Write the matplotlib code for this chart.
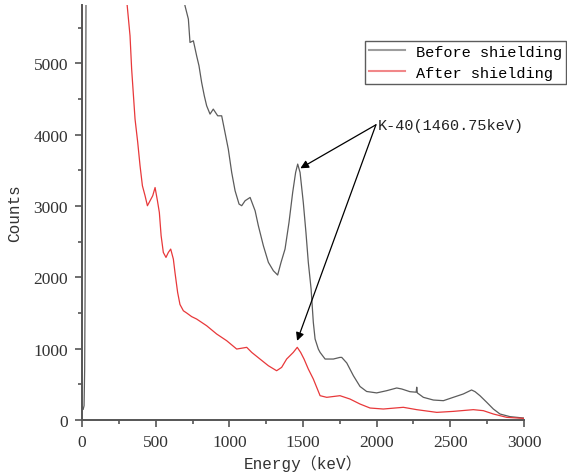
import numpy as np
import matplotlib.pyplot as plt
from matplotlib.ticker import MultipleLocator

# spectrum before shielding (energy keV, counts)
before_e = [8, 14, 18, 21, 24, 28, 32, 690,
            699, 722, 733, 756, 778, 794, 812, 830, 846, 869, 891, 921, 948, 966,
            993, 1016, 1039, 1066, 1084, 1107, 1141, 1175, 1197, 1231, 1265, 1299,
            1328, 1351, 1378, 1405, 1430, 1450, 1464, 1480, 1502, 1520, 1536, 1555,
            1570, 1582, 1604, 1616, 1650, 1706, 1751, 1763, 1797, 1842, 1887, 1932,
            2000, 2068, 2136, 2170, 2226, 2268, 2272, 2276, 2317, 2385, 2453, 2520,
            2588, 2644, 2668, 2701, 2747, 2792, 2837, 2905, 2996]
before_c = [150, 200, 700, 1800, 3500, 6500, 9000, 5950,
            5810, 5622, 5295, 5318, 5108, 4968, 4734, 4547, 4407, 4290, 4360, 4266, 4266, 4080,
            3799, 3472, 3215, 3028, 3005, 3075, 3121, 2934, 2724, 2444, 2211, 2093,
            2033, 2211, 2397, 2771, 3192, 3472, 3589, 3472, 3051, 2630, 2211, 1837,
            1370, 1136, 995, 948, 855, 855, 878, 878, 800, 621, 470, 400,
            380, 411, 449, 435, 397, 390, 460, 380, 318, 280, 271, 318,
            365, 421, 397, 341, 248, 154, 84, 47, 28]

# spectrum after shielding
after_e = [0, 4, 300, 305, 326, 337, 360, 378, 394, 410, 428, 444, 462, 480, 496,
           512, 525, 537, 552, 570, 586, 602, 620, 631, 649, 665, 688, 711, 744,
           778, 846, 914, 982, 1050, 1118, 1152, 1208, 1265, 1321, 1355, 1389,
           1434, 1461, 1484, 1507, 1536, 1570, 1593, 1616, 1661, 1751, 1819, 1887,
           1955, 2045, 2181, 2272, 2408, 2520, 2656, 2724, 2792, 2883, 2996]
after_c = [4200, 8000, 5950, 5850, 5388, 4921, 4220, 3897, 3565, 3285, 3145, 3005, 3075, 3145, 3260,
           3075, 2910, 2585, 2350, 2280, 2350, 2397, 2257, 2070, 1790, 1620, 1532, 1500, 1450,
           1416, 1322, 1206, 1112, 995, 1019, 948, 855, 761, 691, 738, 855,
           948, 1019, 948, 855, 715, 575, 458, 341, 318, 341, 294, 224,
           168, 154, 178, 145, 107, 121, 145, 131, 84, 37, 23]

plt.rcParams['font.family'] = ['Liberation Serif', 'DejaVu Serif']
mono = ['Liberation Mono', 'Noto Sans CJK SC']

fig = plt.figure(figsize=(5.67, 4.77), dpi=100)
ax = fig.add_axes([82/567, 56/477, 442/567, 415/477])

ax.plot(before_e, before_c, color='#5c5c5c', lw=0.9, label='Before shielding')
ax.plot(after_e, after_c, color='#e8383a', lw=0.9, label='After shielding')

ax.set_xlim(0, 3000)
ax.set_ylim(0, 5820)
ax.xaxis.set_major_locator(MultipleLocator(500))
ax.xaxis.set_minor_locator(MultipleLocator(250))
ax.yaxis.set_major_locator(MultipleLocator(1000))
ax.yaxis.set_minor_locator(MultipleLocator(500))

for s in ['top', 'right']:
    ax.spines[s].set_visible(False)
for s in ['left', 'bottom']:
    ax.spines[s].set_color('#555555')
    ax.spines[s].set_linewidth(1.4)
ax.tick_params(which='major', length=5, width=1.2, color='#555555',
               labelcolor='#333333', labelsize=12.5, pad=5)
ax.tick_params(which='minor', length=3, width=1.2, color='#555555')

ax.set_xlabel('Energy（keV）', family=mono, fontsize=11.5, color='#333333', labelpad=3)
ax.set_ylabel('Counts', family=mono, fontsize=11.5, color='#333333', labelpad=8)

leg = ax.legend(loc='upper right', bbox_to_anchor=(566/567, 435/477),
                bbox_transform=fig.transFigure, prop={'family': 'Liberation Mono', 'size': 11},
                frameon=True, fancybox=False, handlelength=2.4, handletextpad=0.7,
                borderpad=0.25, labelspacing=0.45, borderaxespad=0)
leg.get_frame().set_edgecolor('#333333')
leg.get_frame().set_linewidth(1.0)
for h in leg.get_lines():
    h.set_alpha(0.6)
    h.set_linewidth(1.5)

# K-40 annotation with two arrows
txt_xy = (1995, 4140)
ax.annotate('', xy=(1482, 3530), xytext=txt_xy,
            arrowprops=dict(arrowstyle='-|>', color='black', lw=0.9, shrinkA=0, shrinkB=0,
                            mutation_scale=12))
ax.annotate('', xy=(1460, 1110), xytext=txt_xy,
            arrowprops=dict(arrowstyle='-|>', color='black', lw=0.9, shrinkA=0, shrinkB=0,
                            mutation_scale=12))
ax.text(2010, 4140, 'K-40(1460.75keV)', family='Liberation Mono', fontsize=11,
        ha='left', va='center', color='#222222')

fig.savefig('out.png', dpi=100)
